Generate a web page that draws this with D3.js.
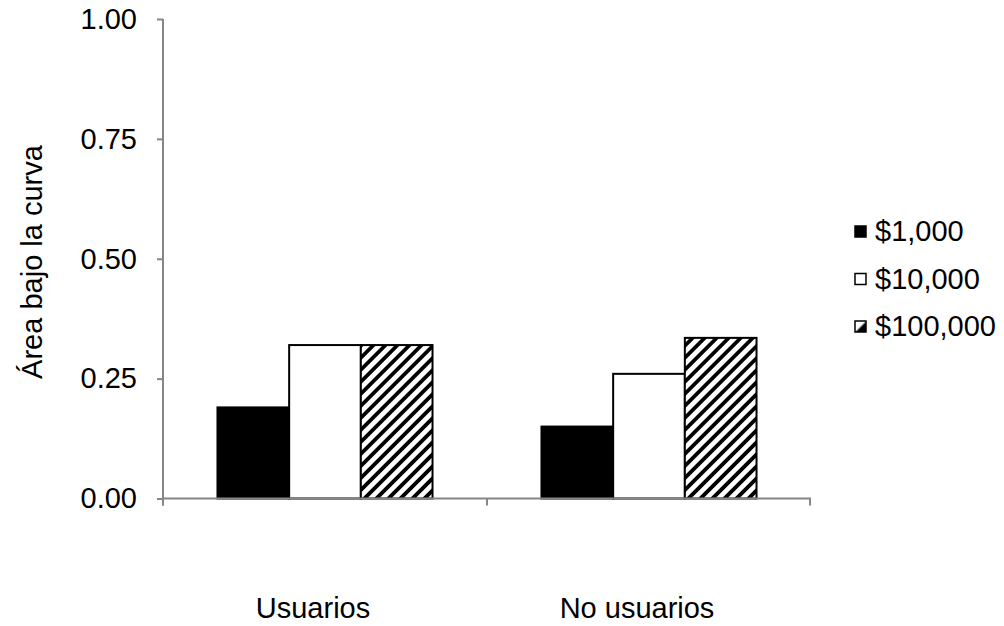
<!DOCTYPE html>
<html><head><meta charset="utf-8">
<script src="https://cdn.jsdelivr.net/npm/d3@7"></script>
<style>body{margin:0;background:#fff}svg{display:block}text{font-family:"Liberation Sans",Arial,sans-serif;fill:#000}</style>
</head><body>
<svg id="c" width="1004" height="626"></svg>
<script>
const categories = ["Usuarios", "No usuarios"];
const seriesNames = ["$1,000", "$10,000", "$100,000"];
const v1000 = [0.19, 0.15];
const v10000 = [0.32, 0.26];
const v100000 = [0.32, 0.335];
const yTicks = [0, 0.25, 0.5, 0.75, 1.0];

const series = [v1000, v10000, v100000];
const svg = d3.select("#c");
const defs = svg.append("defs");
const pat = defs.append("pattern").attr("id","hatch").attr("patternUnits","userSpaceOnUse")
  .attr("width",8.5).attr("height",8.5).attr("patternTransform","rotate(45)");
pat.append("rect").attr("width",8.5).attr("height",8.5).attr("fill","#fff");
pat.append("rect").attr("x",0).attr("width",3.8).attr("height",8.5).attr("fill","#000");
const grad = defs.append("linearGradient").attr("id","legG").attr("x1","0").attr("y1","0").attr("x2","1").attr("y2","1");
grad.append("stop").attr("offset","0.45").attr("stop-color","#fff");
grad.append("stop").attr("offset","0.6").attr("stop-color","#000");

const fills = ["#000", "#fff", "url(#hatch)"];
const legendFills = ["#000", "#fff", "url(#legG)"];

const mLeft = 163, mRight = 811, mTop = 19, mBottom = 498.5;
const FS = 29;
const y = d3.scaleLinear().domain([0,1]).range([mBottom, mTop]);
const x0 = d3.scaleBand().domain(categories).range([mLeft, mRight]).padding(0);
const x1 = d3.scaleBand().domain(seriesNames).range([0, x0.bandwidth()]).paddingInner(0).paddingOuter(0.76);

// bars
categories.forEach((c, ci) => {
  const g = svg.append("g").attr("transform", `translate(${x0(c)},0)`);
  seriesNames.forEach((s, si) => {
    const val = series[si][ci];
    g.append("rect").attr("x", x1(s)).attr("y", y(val))
      .attr("width", x1.bandwidth()).attr("height", y(0) - y(val))
      .attr("fill", fills[si]).attr("stroke", "#000").attr("stroke-width", 2);
  });
});

// y axis
const yAxis = d3.axisLeft(y).tickValues(yTicks).tickFormat(d3.format(".2f")).tickSizeOuter(0).tickSize(6).tickPadding(20);
const ya = svg.append("g").attr("transform", `translate(${mLeft},0)`).call(yAxis);
ya.select(".domain").attr("stroke", "#868686").attr("stroke-width", 2).attr("d", `M0,${mTop}V${mBottom+7}`);
ya.selectAll(".tick line").attr("stroke", "#868686").attr("stroke-width", 2);
ya.selectAll(".tick text").attr("font-size", FS).attr("font-family", "Liberation Sans, Arial, sans-serif").attr("fill","#000");

// x axis
const xa = svg.append("g").attr("transform", `translate(0,${mBottom})`);
xa.append("path").attr("d", `M${mLeft},0H${mRight}`).attr("stroke", "#868686").attr("stroke-width", 2).attr("fill","none");
[mLeft, mLeft + x0.step(), mRight - 1].forEach(t => {
  xa.append("line").attr("x1", t).attr("x2", t).attr("y1", 0).attr("y2", 7).attr("stroke", "#868686").attr("stroke-width", 2);
});
categories.forEach(c => {
  svg.append("text").attr("x", x0(c) + x0.bandwidth()/2 - 12).attr("y", 618)
    .attr("text-anchor", "middle").attr("font-size", FS).text(c);
});

// y title
svg.append("text").attr("transform", `translate(42,262) rotate(-90)`).attr("text-anchor","middle")
  .attr("font-size", FS).text("Área bajo la curva");

// legend
seriesNames.forEach((s, i) => {
  const cy = 231 + i * 47.5;
  svg.append("rect").attr("x", 855).attr("y", cy - 5).attr("width", 11).attr("height", 11)
    .attr("fill", legendFills[i]).attr("stroke", "#000").attr("stroke-width", 1.5);
  svg.append("text").attr("x", 875).attr("y", cy + 10).attr("font-size", FS).text(s);
});
</script>
</body></html>
